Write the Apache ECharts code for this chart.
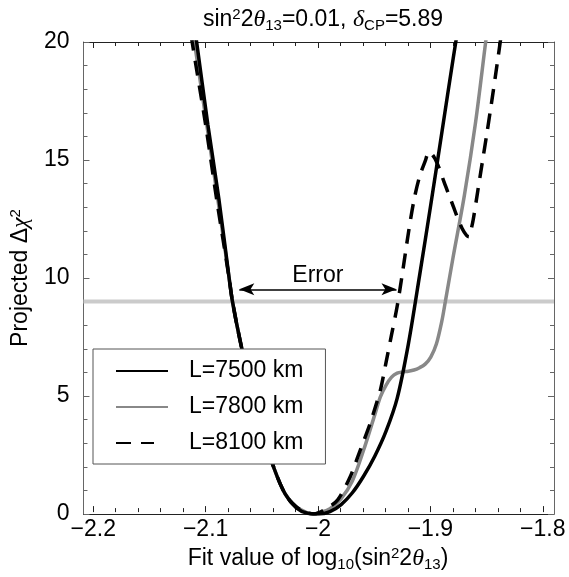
<!DOCTYPE html>
<html><head><meta charset="utf-8">
<script src="https://cdn.jsdelivr.net/npm/echarts@6/dist/echarts.min.js"></script>
<style>html,body{margin:0;padding:0;background:#fff}#c{width:569px;height:577px}</style>
</head><body><div id="c"></div>
<script>
// ---- data ----
const xTicks = [-2.2, -2.1, -2.0, -1.9, -1.8];
const yTicks = [0, 5, 10, 15, 20];
const xFrame = [-2.21, -1.79];
const thresholdValue = 9;
const errorRange = [-2.0709, -1.9306];
const errorLevel = 9.52;
const seriesNames = ['L=7500 km', 'L=7800 km', 'L=8100 km'];

const x7500 = [-2.113, -2.109, -2.099, -2.089, -2.080, -2.077, -2.070, -2.060, -2.050, -2.040, -2.030, -2.020, -2.010, -2.000, -1.990, -1.980, -1.970, -1.960, -1.950, -1.940, -1.930, -1.920, -1.910, -1.900, -1.890, -1.880, -1.875];
const y7500 = [21.3, 20.0, 16.5, 13.3, 10.0, 9.0, 7.3, 5.2, 3.45, 1.95, 0.85, 0.26, 0.03, 0.0, 0.1, 0.4, 0.9, 1.6, 2.45, 3.5, 4.9, 7.2, 10.1, 13.1, 16.2, 19.3, 20.8];

const x7800 = [-2.115, -2.111, -2.100, -2.090, -2.080, -2.077, -2.070, -2.060, -2.050, -2.040, -2.030, -2.020, -2.010, -2.005, -2.000, -1.990, -1.980, -1.970, -1.960, -1.950, -1.945, -1.940, -1.935, -1.930, -1.925, -1.920, -1.915, -1.910, -1.905, -1.900, -1.895, -1.890, -1.887, -1.880, -1.870, -1.860, -1.851, -1.848];
const y7800 = [21.3, 20.0, 16.5, 13.3, 10.0, 9.0, 7.3, 5.2, 3.45, 1.95, 0.85, 0.3, 0.05, 0.0, 0.04, 0.22, 0.65, 1.4, 2.7, 4.2, 4.96, 5.45, 5.8, 5.97, 6.02, 6.05, 6.1, 6.2, 6.35, 6.65, 7.2, 8.2, 9.0, 10.9, 13.5, 16.6, 20.0, 21.1];

const x8100 = [-2.117, -2.113, -2.101, -2.091, -2.080, -2.077, -2.070, -2.060, -2.050, -2.040, -2.030, -2.020, -2.010, -2.005, -2.000, -1.990, -1.983, -1.972, -1.963, -1.954, -1.950, -1.945, -1.940, -1.935, -1.930, -1.925, -1.920, -1.915, -1.910, -1.905, -1.9015, -1.8968, -1.8925, -1.888, -1.884, -1.880, -1.8765, -1.872, -1.868, -1.866, -1.864, -1.862, -1.858, -1.854, -1.850, -1.846, -1.842, -1.838, -1.836];
const y8100 = [21.3, 20.0, 16.5, 13.3, 10.0, 9.0, 7.3, 5.2, 3.45, 1.95, 0.85, 0.3, 0.05, 0.0, 0.06, 0.32, 0.6, 1.57, 2.7, 3.85, 4.45, 5.25, 6.4, 7.6, 8.8, 10.3, 11.9, 13.3, 14.3, 14.95, 15.35, 15.1, 14.65, 14.05, 13.55, 13.05, 12.6, 12.1, 11.8, 11.75, 12.05, 12.5, 13.7, 14.9, 16.1, 17.35, 18.65, 20.0, 20.7];

// ---- chart ----
const FONT = 'Liberation Sans, Arial, Helvetica, sans-serif';
const GREEK = 'Liberation Serif, Times New Roman, serif';
const FS = 23;
const zip = (xs, ys) => xs.map((x, i) => [x, ys[i]]);
const fmt = v => String(+(+v).toFixed(2)).replace('-', '\u2212');
const richStyles = {
  s: {fontSize: 15, fontFamily: FONT, color: '#000', padding: [0, 0, 11, 0]},
  b: {fontSize: 15, fontFamily: FONT, color: '#000', padding: [11, 0, 0, 0]},
  i: {fontSize: 24, fontFamily: GREEK, fontStyle: 'italic', color: '#000'},
  a: {fontSize: FS, fontFamily: FONT, color: '#000'}
};
const frameDark = '#222';
const frameGray = '#666';

const chart = echarts.init(document.getElementById('c'), null, {renderer: 'canvas'});
const tickStep = xTicks[1] - xTicks[0];
const yStep = yTicks[1] - yTicks[0];

chart.setOption({
  animation: false,
  backgroundColor: '#fff',
  textStyle: {fontFamily: FONT},
  title: {
    text: '{a|sin}{s|2}{a|2}{i|θ}{b|13}{a|=0.01, }{i|δ}{b|CP}{a|=5.89}',
    left: 318, top: 2, textAlign: 'center',
    textStyle: {rich: richStyles, fontSize: FS, fontWeight: 'normal', color: '#000'}
  },
  legend: {
    data: [
      {name: seriesNames[0]},
      {name: seriesNames[1]},
      {name: seriesNames[2], lineStyle: {type: [15, 10, 13, 100], cap: 'butt'}}
    ],
    orient: 'vertical',
    left: 93, top: 349, z: 20,
    padding: [10.5, 22, 9.5, 22],
    itemWidth: 52, itemHeight: 23, itemGap: 13,
    backgroundColor: '#fff',
    borderColor: '#555', borderWidth: 1, borderRadius: 0,
    itemStyle: {opacity: 0},
    formatter: name => '{g|}' + name,
    textStyle: {fontSize: FS, fontFamily: FONT, color: '#000', rich: {g: {width: 16}}},
    selectedMode: false
  },
  grid: [
    {left: 82, top: 42, right: 15, bottom: 63, containLabel: false},
    {left: 93.24, top: 42, right: 26.24, bottom: 63, containLabel: false}
  ],
  xAxis: [
    {type: 'value', gridIndex: 0, position: 'bottom', min: xFrame[0], max: xFrame[1],
     axisLine: {show: true, onZero: false, lineStyle: {color: frameDark, width: 1}},
     axisTick: {show: false}, axisLabel: {show: false}, splitLine: {show: false}},
    {type: 'value', gridIndex: 0, position: 'top', min: xFrame[0], max: xFrame[1],
     axisLine: {show: true, onZero: false, lineStyle: {color: frameDark, width: 1}},
     axisTick: {show: false}, axisLabel: {show: false}, splitLine: {show: false}},
    {type: 'value', gridIndex: 1, position: 'bottom', min: xTicks[0], max: xTicks[xTicks.length - 1], interval: tickStep,
     axisLine: {show: false, onZero: false},
     axisTick: {show: true, inside: true, length: 6, lineStyle: {color: frameDark}},
     minorTick: {show: true, splitNumber: 5, length: 4, lineStyle: {color: frameDark}},
     axisLabel: {show: true, fontSize: FS, color: '#000', margin: 6, formatter: fmt, fontFamily: FONT},
     splitLine: {show: false},
     name: 'Fit value of log{b|10}(sin{s|2}2{i|θ}{b|13})',
     nameLocation: 'middle', nameGap: 27,
     nameTextStyle: {fontSize: FS, color: '#000', fontFamily: FONT, rich: richStyles}},
    {type: 'value', gridIndex: 1, position: 'top', min: xTicks[0], max: xTicks[xTicks.length - 1], interval: tickStep,
     axisLine: {show: false, onZero: false},
     axisTick: {show: true, inside: true, length: 6, lineStyle: {color: frameDark}},
     minorTick: {show: true, splitNumber: 5, length: 4, lineStyle: {color: frameDark}},
     axisLabel: {show: false}, splitLine: {show: false}}
  ],
  yAxis: [
    {type: 'value', gridIndex: 0, position: 'left', min: yTicks[0], max: yTicks[yTicks.length - 1], interval: yStep,
     axisLine: {show: true, onZero: false, lineStyle: {color: frameGray, width: 1}},
     axisTick: {show: true, inside: true, length: 6, lineStyle: {color: frameGray}},
     minorTick: {show: true, splitNumber: 5, length: 4, lineStyle: {color: frameGray}},
     axisLabel: {show: true, fontSize: FS, color: '#000', margin: 14, fontFamily: FONT},
     splitLine: {show: false},
     name: 'Projected Δ{i|χ}{s|2}', nameLocation: 'middle', nameGap: 44, nameRotate: 90,
     nameTextStyle: {fontSize: FS, color: '#000', fontFamily: FONT, rich: richStyles}},
    {type: 'value', gridIndex: 0, position: 'right', min: yTicks[0], max: yTicks[yTicks.length - 1], interval: yStep,
     axisLine: {show: true, onZero: false, lineStyle: {color: frameGray, width: 1}},
     axisTick: {show: true, inside: true, length: 6, lineStyle: {color: frameGray}},
     minorTick: {show: true, splitNumber: 5, length: 4, lineStyle: {color: frameGray}},
     axisLabel: {show: false}, splitLine: {show: false}},
    {type: 'value', gridIndex: 1, show: false, min: yTicks[0], max: yTicks[yTicks.length - 1]}
  ],
  series: [
    {name: 'threshold', type: 'line', xAxisIndex: 0, yAxisIndex: 0, z: 1,
     data: [[xFrame[0], thresholdValue], [xFrame[1], thresholdValue]],
     symbol: 'none', lineStyle: {color: '#cbcbcb', width: 4}, silent: true},
    {name: seriesNames[1], type: 'line', xAxisIndex: 0, yAxisIndex: 0, z: 2,
     data: zip(x7800, y7800), symbol: 'none', smooth: 0.3,
     color: '#888', lineStyle: {color: '#888', width: 3.5}},
    {name: seriesNames[0], type: 'line', xAxisIndex: 0, yAxisIndex: 0, z: 3,
     data: zip(x7500, y7500), symbol: 'none', smooth: 0.3,
     color: '#000', lineStyle: {color: '#000', width: 3.5},
     markLine: {
       silent: true, symbol: ['arrow', 'arrow'], symbolSize: [9, 15],
       lineStyle: {color: '#000', width: 1.5, type: 'solid'},
       label: {show: true, position: 'insideMiddleTop', formatter: 'Error', fontSize: FS, color: '#000', fontFamily: FONT, distance: 2},
       data: [[{coord: [errorRange[0], errorLevel]}, {coord: [errorRange[1], errorLevel]}]]
     }},
    {name: seriesNames[2], type: 'line', xAxisIndex: 0, yAxisIndex: 0, z: 4,
     data: zip(x8100, y8100), symbol: 'none', smooth: 0.3,
     color: '#000', lineStyle: {color: '#000', width: 3.5, type: [15, 10], cap: 'butt'}}
  ]
});
</script></body></html>
